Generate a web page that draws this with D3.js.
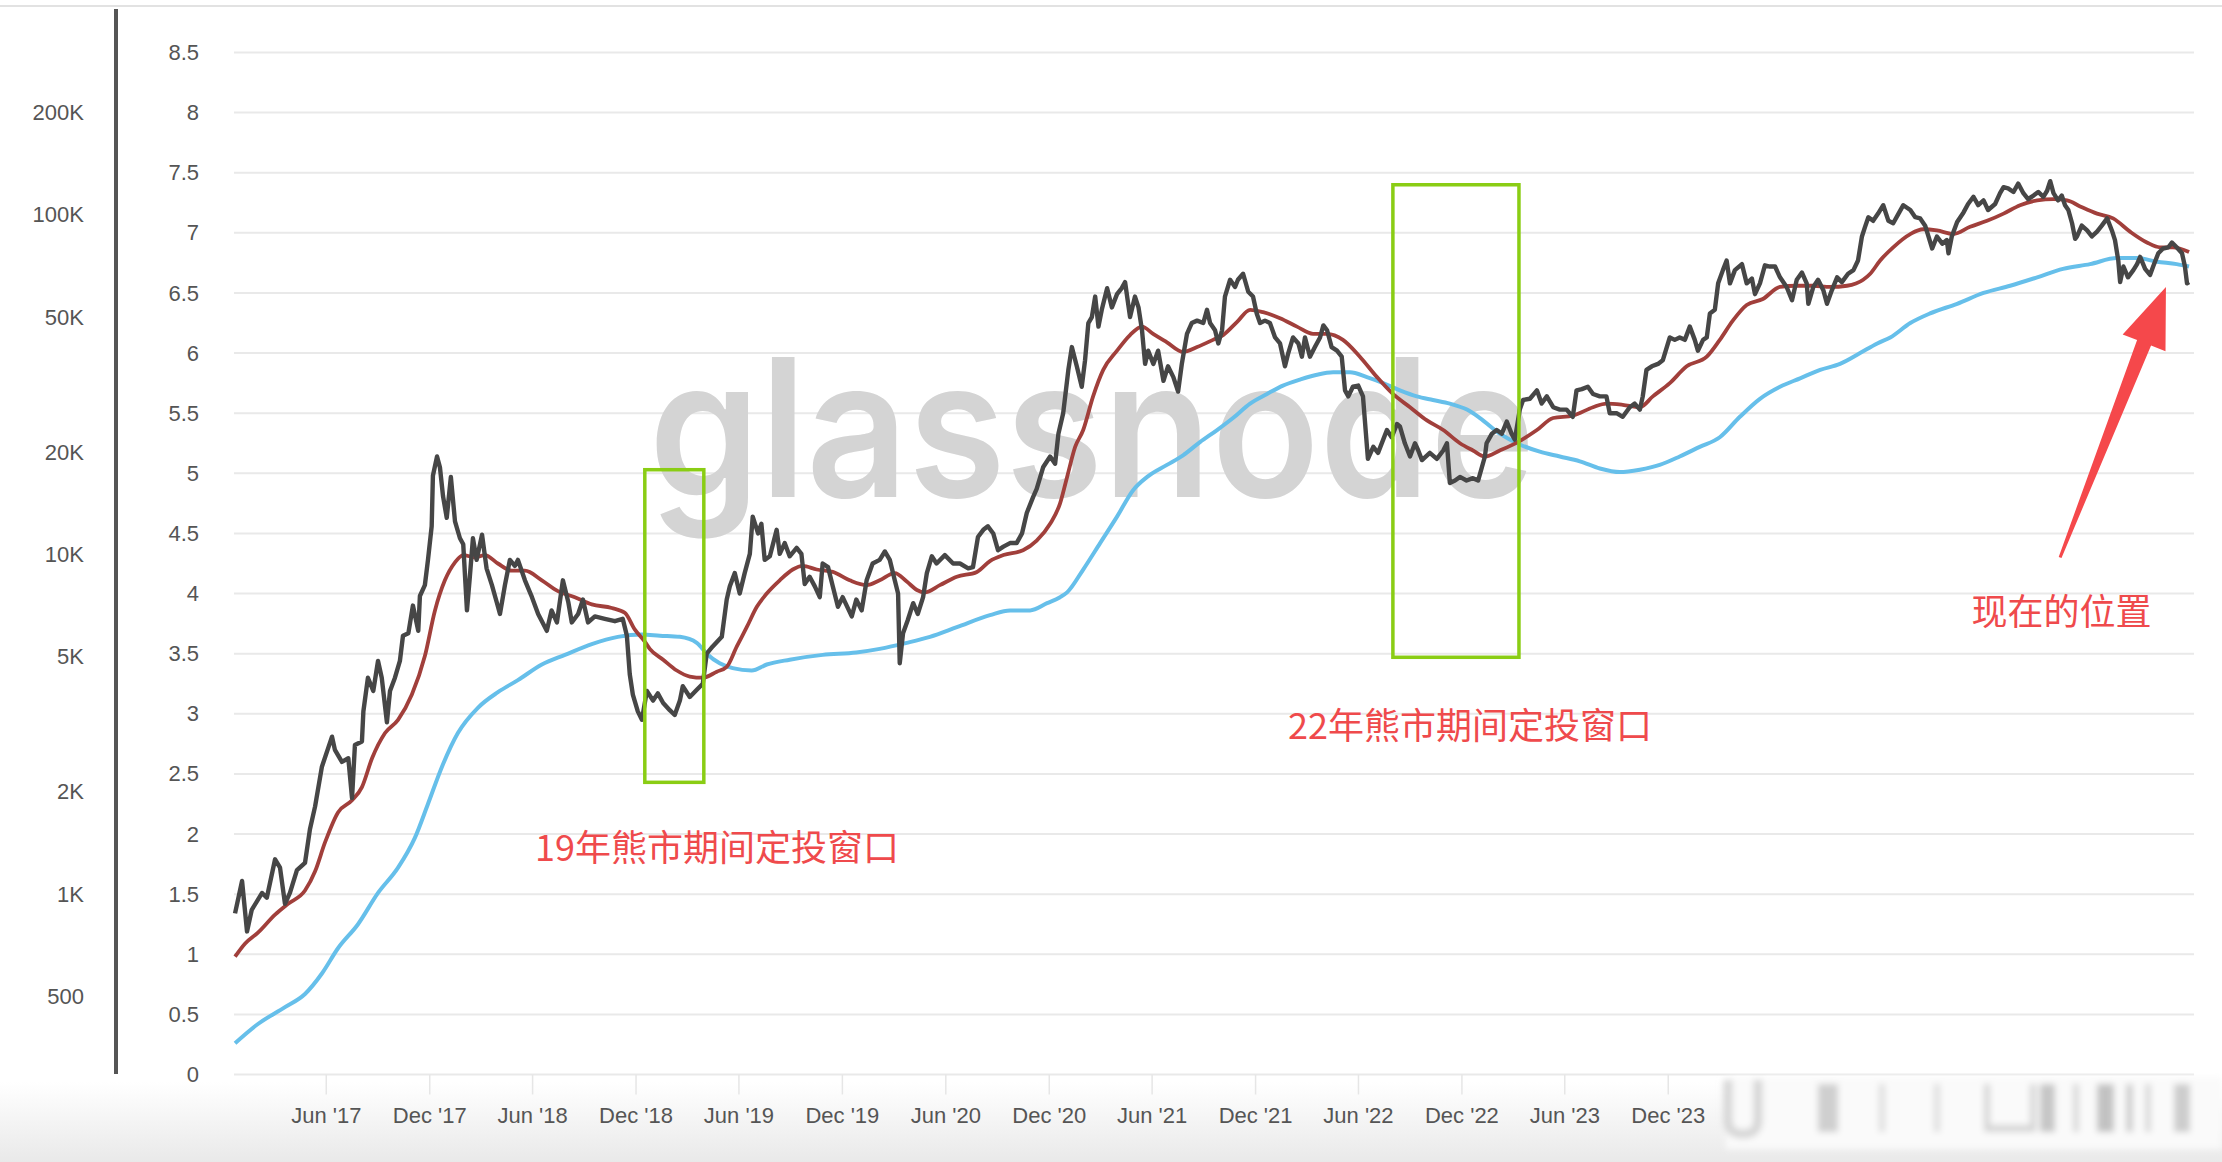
<!DOCTYPE html>
<html>
<head>
<meta charset="utf-8">
<script src="https://cdn.jsdelivr.net/npm/d3@7"></script>
<style>
  html, body { margin: 0; padding: 0; background: #fff; }
  svg { display: block; }
</style>
</head>
<body>
<svg id="chart" width="2222" height="1162"></svg>
<script>
// Values are read on the right-hand 0–8.5 axis; x is a decimal year.
const priceYears = [2016.974,2017.008,2017.032,2017.055,2017.105,2017.128,2017.168,2017.192,2017.216,2017.240,2017.274,2017.313,2017.337,2017.362,2017.395,2017.444,2017.458,2017.492,2017.523,2017.541,2017.555,2017.589,2017.596,2017.618,2017.644,2017.667,2017.685,2017.710,2017.725,2017.749,2017.773,2017.788,2017.814,2017.836,2017.862,2017.870,2017.894,2017.909,2017.927,2017.933,2017.953,2017.967,2017.982,2018.000,2018.020,2018.040,2018.064,2018.080,2018.098,2018.112,2018.127,2018.145,2018.171,2018.193,2018.219,2018.242,2018.258,2018.282,2018.306,2018.330,2018.345,2018.379,2018.413,2018.443,2018.485,2018.508,2018.534,2018.563,2018.589,2018.606,2018.637,2018.660,2018.685,2018.718,2018.766,2018.815,2018.853,2018.873,2018.887,2018.902,2018.926,2018.946,2018.970,2019.000,2019.023,2019.049,2019.081,2019.105,2019.130,2019.144,2019.178,2019.212,2019.241,2019.260,2019.289,2019.333,2019.357,2019.372,2019.396,2019.420,2019.444,2019.469,2019.483,2019.509,2019.525,2019.541,2019.566,2019.599,2019.614,2019.638,2019.662,2019.696,2019.719,2019.735,2019.759,2019.784,2019.808,2019.822,2019.848,2019.871,2019.896,2019.919,2019.963,2019.985,2020.011,2020.035,2020.064,2020.098,2020.123,2020.147,2020.171,2020.187,2020.195,2020.211,2020.234,2020.260,2020.282,2020.308,2020.326,2020.350,2020.373,2020.413,2020.453,2020.486,2020.526,2020.549,2020.573,2020.599,2020.621,2020.647,2020.670,2020.696,2020.728,2020.760,2020.786,2020.809,2020.839,2020.857,2020.888,2020.922,2020.946,2020.962,2020.985,2021.010,2021.027,2021.051,2021.075,2021.091,2021.107,2021.124,2021.140,2021.156,2021.172,2021.198,2021.221,2021.246,2021.269,2021.285,2021.309,2021.333,2021.350,2021.367,2021.382,2021.397,2021.422,2021.445,2021.471,2021.493,2021.519,2021.542,2021.560,2021.585,2021.608,2021.634,2021.664,2021.682,2021.697,2021.721,2021.737,2021.755,2021.769,2021.794,2021.818,2021.832,2021.857,2021.882,2021.905,2021.923,2021.939,2021.963,2021.987,2022.012,2022.036,2022.060,2022.076,2022.099,2022.125,2022.142,2022.157,2022.181,2022.205,2022.230,2022.246,2022.264,2022.286,2022.312,2022.335,2022.351,2022.367,2022.389,2022.415,2022.438,2022.462,2022.488,2022.511,2022.536,2022.554,2022.577,2022.603,2022.617,2022.641,2022.666,2022.690,2022.706,2022.724,2022.762,2022.796,2022.827,2022.845,2022.859,2022.884,2022.908,2022.940,2022.971,2022.996,2023.029,2023.037,2023.063,2023.086,2023.111,2023.135,2023.158,2023.174,2023.198,2023.214,2023.247,2023.281,2023.304,2023.329,2023.360,2023.392,2023.425,2023.455,2023.473,2023.499,2023.528,2023.553,2023.586,2023.618,2023.634,2023.667,2023.697,2023.731,2023.755,2023.780,2023.794,2023.812,2023.838,2023.868,2023.891,2023.925,2023.949,2023.973,2023.998,2024.022,2024.046,2024.061,2024.086,2024.104,2024.119,2024.143,2024.159,2024.182,2024.200,2024.216,2024.240,2024.274,2024.297,2024.322,2024.337,2024.361,2024.385,2024.409,2024.434,2024.458,2024.490,2024.516,2024.539,2024.564,2024.587,2024.595,2024.619,2024.642,2024.668,2024.685,2024.708,2024.734,2024.757,2024.787,2024.813,2024.835,2024.854,2024.869,2024.885,2024.908,2024.932,2024.957,2024.982,2025.005,2025.031,2025.054,2025.088,2025.112,2025.136,2025.160,2025.176,2025.194,2025.217,2025.243,2025.265,2025.273,2025.289,2025.315,2025.346,2025.368,2025.394,2025.417,2025.443,2025.465,2025.499,2025.523,2025.540,2025.562,2025.588,2025.611,2025.636,2025.659,2025.685,2025.708,2025.733,2025.751,2025.766,2025.782,2025.804,2025.822,2025.838,2025.854,2025.872,2025.887,2025.896,2025.919,2025.945,2025.968,2025.993,2026.016,2026.042,2026.065,2026.080,2026.096,2026.105,2026.121,2026.143,2026.169,2026.187,2026.202,2026.226,2026.250,2026.265,2026.290,2026.313,2026.339,2026.356,2026.379,2026.405,2026.419,2026.429,2026.439];
const priceValues = [1.34,1.61,1.19,1.37,1.51,1.47,1.79,1.72,1.42,1.51,1.70,1.76,2.04,2.23,2.56,2.81,2.70,2.60,2.63,2.30,2.74,2.77,3.02,3.30,3.19,3.44,3.30,2.93,3.19,3.30,3.44,3.65,3.67,3.90,3.69,3.98,4.07,4.28,4.56,4.98,5.14,5.05,4.81,4.63,4.97,4.60,4.46,4.41,3.86,4.14,4.46,4.28,4.49,4.21,4.07,3.93,3.83,4.07,4.28,4.23,4.28,4.11,3.97,3.83,3.69,3.86,3.76,4.11,3.93,3.76,3.83,3.95,3.76,3.81,3.79,3.77,3.79,3.65,3.33,3.16,3.02,2.95,3.19,3.11,3.17,3.09,3.03,2.99,3.11,3.23,3.14,3.20,3.25,3.50,3.56,3.64,3.95,4.06,4.17,4.00,4.17,4.33,4.64,4.50,4.58,4.28,4.31,4.53,4.33,4.42,4.31,4.38,4.33,4.08,4.14,4.06,3.97,4.25,4.22,4.06,3.89,3.97,3.81,3.95,3.86,4.11,4.25,4.28,4.35,4.28,4.11,4.00,3.42,3.67,3.78,3.92,3.83,3.97,4.17,4.31,4.25,4.32,4.25,4.25,4.21,4.22,4.47,4.53,4.56,4.50,4.36,4.39,4.42,4.42,4.50,4.67,4.80,4.87,5.05,5.14,5.08,5.33,5.50,5.86,6.05,5.89,5.72,5.94,6.25,6.30,6.47,6.22,6.36,6.54,6.38,6.49,6.54,6.59,6.30,6.47,6.38,6.19,5.91,6.02,5.91,6.02,5.77,5.89,5.80,5.68,5.91,6.16,6.25,6.27,6.25,6.36,6.25,6.19,6.08,6.19,6.47,6.61,6.55,6.61,6.66,6.51,6.47,6.33,6.25,6.27,6.25,6.13,6.08,5.89,6.00,6.13,6.08,5.97,6.13,5.97,6.05,6.13,6.23,6.19,6.05,6.02,5.97,5.69,5.64,5.72,5.73,5.64,5.12,5.22,5.17,5.28,5.36,5.30,5.41,5.39,5.25,5.14,5.25,5.19,5.11,5.17,5.12,5.19,5.25,4.92,4.94,4.97,4.94,4.96,4.94,5.14,5.25,5.33,5.36,5.33,5.43,5.33,5.28,5.53,5.61,5.62,5.69,5.58,5.64,5.55,5.53,5.53,5.47,5.69,5.70,5.72,5.66,5.64,5.64,5.50,5.50,5.47,5.55,5.58,5.53,5.64,5.86,5.89,5.91,5.94,6.13,6.11,6.13,6.11,6.22,6.11,6.02,6.11,6.13,6.33,6.36,6.58,6.69,6.77,6.58,6.69,6.74,6.58,6.62,6.49,6.58,6.73,6.72,6.72,6.63,6.55,6.44,6.61,6.67,6.58,6.41,6.55,6.61,6.52,6.41,6.52,6.63,6.59,6.66,6.69,6.77,6.97,7.05,7.13,7.10,7.16,7.23,7.10,7.08,7.16,7.23,7.19,7.13,7.12,7.06,6.97,6.87,6.97,6.91,6.94,6.83,6.97,7.09,7.17,7.24,7.30,7.23,7.27,7.19,7.24,7.33,7.38,7.37,7.34,7.41,7.33,7.28,7.31,7.34,7.30,7.35,7.43,7.33,7.27,7.31,7.23,7.19,7.08,6.95,6.97,7.06,7.02,6.97,7.01,7.06,7.12,7.02,6.94,6.77,6.59,6.72,6.63,6.69,6.74,6.80,6.70,6.65,6.72,6.83,6.87,6.88,6.92,6.88,6.83,6.72,6.58,6.59];

const redYears = [2016.974,2017.023,2017.085,2017.168,2017.231,2017.313,2017.362,2017.410,2017.473,2017.541,2017.589,2017.638,2017.701,2017.764,2017.831,2017.894,2017.943,2017.991,2018.040,2018.080,2018.137,2018.185,2018.248,2018.316,2018.379,2018.461,2018.539,2018.621,2018.703,2018.800,2018.863,2018.912,2018.960,2018.984,2019.049,2019.115,2019.178,2019.241,2019.309,2019.357,2019.406,2019.454,2019.503,2019.551,2019.614,2019.677,2019.725,2019.793,2019.871,2019.953,2020.035,2020.098,2020.171,2020.229,2020.278,2020.316,2020.389,2020.471,2020.568,2020.631,2020.696,2020.791,2020.857,2020.922,2020.970,2021.004,2021.043,2021.082,2021.130,2021.179,2021.246,2021.309,2021.367,2021.421,2021.488,2021.566,2021.634,2021.711,2021.760,2021.828,2021.891,2021.954,2022.036,2022.118,2022.196,2022.264,2022.341,2022.423,2022.506,2022.583,2022.666,2022.748,2022.827,2022.908,2022.971,2023.029,2023.101,2023.189,2023.281,2023.360,2023.455,2023.553,2023.618,2023.697,2023.780,2023.843,2023.925,2024.007,2024.104,2024.167,2024.230,2024.297,2024.375,2024.458,2024.540,2024.619,2024.700,2024.782,2024.860,2024.894,2024.942,2025.005,2025.088,2025.150,2025.217,2025.296,2025.378,2025.460,2025.540,2025.620,2025.703,2025.782,2025.848,2025.911,2025.993,2026.071,2026.153,2026.235,2026.298,2026.361,2026.439];
const redValues = [0.98,1.09,1.18,1.33,1.42,1.53,1.69,1.93,2.18,2.28,2.39,2.63,2.84,2.95,3.16,3.48,3.86,4.11,4.26,4.32,4.30,4.32,4.25,4.19,4.19,4.11,4.02,3.97,3.91,3.88,3.84,3.70,3.60,3.54,3.45,3.36,3.31,3.30,3.35,3.39,3.56,3.72,3.89,4.00,4.11,4.20,4.23,4.20,4.18,4.11,4.07,4.11,4.17,4.10,4.03,4.01,4.07,4.14,4.18,4.27,4.32,4.36,4.44,4.58,4.75,4.97,5.22,5.36,5.64,5.86,6.02,6.15,6.22,6.16,6.09,6.01,6.05,6.11,6.15,6.26,6.36,6.34,6.29,6.22,6.16,6.16,6.11,5.97,5.80,5.66,5.55,5.44,5.36,5.25,5.19,5.14,5.19,5.26,5.36,5.46,5.48,5.55,5.58,5.57,5.55,5.64,5.75,5.89,5.97,6.11,6.27,6.40,6.45,6.55,6.56,6.56,6.55,6.56,6.61,6.66,6.77,6.88,6.99,7.03,7.02,6.99,7.05,7.10,7.16,7.23,7.27,7.28,7.27,7.22,7.16,7.12,7.01,6.92,6.88,6.88,6.84];

const blueYears = [2016.974,2017.085,2017.216,2017.313,2017.395,2017.473,2017.570,2017.667,2017.764,2017.846,2017.909,2017.977,2018.054,2018.151,2018.248,2018.345,2018.461,2018.573,2018.703,2018.829,2018.946,2019.033,2019.130,2019.212,2019.260,2019.323,2019.386,2019.478,2019.551,2019.662,2019.822,2019.985,2020.098,2020.229,2020.341,2020.471,2020.631,2020.728,2020.825,2020.907,2020.970,2021.004,2021.082,2021.164,2021.246,2021.324,2021.392,2021.488,2021.566,2021.648,2021.731,2021.808,2021.891,2021.973,2022.050,2022.133,2022.215,2022.293,2022.375,2022.457,2022.536,2022.617,2022.699,2022.777,2022.859,2022.942,2023.005,2023.101,2023.198,2023.295,2023.392,2023.489,2023.586,2023.683,2023.780,2023.876,2023.973,2024.070,2024.167,2024.264,2024.361,2024.458,2024.555,2024.652,2024.748,2024.845,2024.928,2024.991,2025.088,2025.184,2025.315,2025.443,2025.572,2025.703,2025.828,2025.959,2026.090,2026.187,2026.284,2026.379,2026.439];
const blueValues = [0.26,0.42,0.56,0.67,0.84,1.05,1.25,1.51,1.72,1.97,2.25,2.56,2.84,3.05,3.18,3.28,3.41,3.49,3.58,3.64,3.66,3.65,3.64,3.59,3.50,3.42,3.38,3.36,3.41,3.45,3.49,3.51,3.54,3.59,3.64,3.72,3.82,3.86,3.86,3.92,3.97,4.01,4.20,4.42,4.64,4.86,4.97,5.07,5.15,5.26,5.36,5.46,5.58,5.66,5.73,5.78,5.82,5.84,5.84,5.80,5.75,5.69,5.64,5.61,5.58,5.53,5.46,5.33,5.24,5.18,5.14,5.10,5.04,5.01,5.03,5.07,5.14,5.22,5.30,5.47,5.62,5.72,5.79,5.86,5.91,6.00,6.08,6.13,6.25,6.33,6.41,6.50,6.56,6.63,6.70,6.74,6.79,6.79,6.76,6.74,6.72];

const rightTicks = [0, 0.5, 1, 1.5, 2, 2.5, 3, 3.5, 4, 4.5, 5, 5.5, 6, 6.5, 7, 7.5, 8, 8.5];
const leftTicks = [500, 1000, 2000, 5000, 10000, 20000, 50000, 100000, 200000];
const leftTickLabels = ['500', '1K', '2K', '5K', '10K', '20K', '50K', '100K', '200K'];
const xTickDates = ['2017-06-01', '2017-12-01', '2018-06-01', '2018-12-01', '2019-06-01', '2019-12-01', '2020-06-01',
  '2020-12-01', '2021-06-01', '2021-12-01', '2022-06-01', '2022-12-01', '2023-06-01', '2023-12-01'];

// DCA windows drawn as green boxes, in data units
const windowStarts = [2018.960, 2022.583];
const windowEnds = [2019.246, 2023.194];
const windowTops = [5.03, 7.40];
const windowBottoms = [2.43, 3.47];

const noteTexts = ['19年熊市期间定投窗口', '22年熊市期间定投窗口', '现在的位置'];
const noteYears = [2018.428, 2022.075, 2025.384];
const noteValues = [1.91, 2.92, 3.87];
const arrowTail = [2025.814, 4.30];
const arrowTip = [2026.327, 6.55];

// ---------------------------------------------------------------
const W = 2222, H = 1162;
const tickFont = '"Liberation Sans", Arial, Helvetica, sans-serif';
const cjkFont = '"Noto Sans CJK SC", "Noto Sans", sans-serif';

const toDate = yr => {
  const y0 = Math.floor(yr);
  const a = Date.UTC(y0, 0, 1), b = Date.UTC(y0 + 1, 0, 1);
  return new Date(a + (yr - y0) * (b - a));
};

const x = d3.scaleUtc().domain([toDate(2016.969), toDate(2026.463)]).range([234, 2194]);
const y = d3.scaleLinear().domain([0, 8.5]).range([1074.5, 52.5]);
const yLog = d3.scaleLog().domain([1000, 200000]).range([y(1.5), y(8)]);

const svg = d3.select('#chart');
const defs = svg.append('defs');

const fade = defs.append('linearGradient').attr('id', 'bottomFade')
  .attr('x1', 0).attr('y1', 0).attr('x2', 0).attr('y2', 1);
fade.append('stop').attr('offset', '0%').attr('stop-color', '#ffffff');
fade.append('stop').attr('offset', '100%').attr('stop-color', '#e9e9e9');

defs.append('filter').attr('id', 'blur').attr('x', '-50%').attr('y', '-50%').attr('width', '200%').attr('height', '200%')
  .append('feGaussianBlur').attr('stdDeviation', 3);

svg.append('rect').attr('width', W).attr('height', H).attr('fill', '#fff');
svg.append('rect').attr('x', 0).attr('y', 1082).attr('width', W).attr('height', H - 1082)
  .attr('fill', 'url(#bottomFade)');

// thin top rule
svg.append('line').attr('x1', 0).attr('x2', W).attr('y1', 6).attr('y2', 6)
  .attr('stroke', '#e2e2e2').attr('stroke-width', 2);

// horizontal grid
svg.append('g').selectAll('line')
  .data(rightTicks)
  .join('line')
  .attr('x1', 234).attr('x2', 2194)
  .attr('y1', d => y(d)).attr('y2', d => y(d))
  .attr('stroke', '#e9e9e9').attr('stroke-width', 2);

// x axis
const xAxis = svg.append('g')
  .attr('transform', `translate(0,${y(0)})`)
  .call(d3.axisBottom(x)
    .tickValues(xTickDates.map(d => new Date(d + 'T00:00:00Z')))
    .tickFormat(d3.utcFormat("%b '%y"))
    .tickSize(20)
    .tickPadding(13));
xAxis.select('.domain').remove();
xAxis.selectAll('.tick line').attr('stroke', '#e6e6e6').attr('stroke-width', 1.5);
xAxis.selectAll('text').attr('fill', '#555').style('font-size', '22px').style('font-family', tickFont);

// right-hand linear axis
const yAxis = svg.append('g')
  .attr('transform', 'translate(199,0)')
  .call(d3.axisLeft(y).tickValues(rightTicks).tickFormat(d => String(d)).tickSize(0).tickPadding(0));
yAxis.select('.domain').remove();
yAxis.selectAll('text').attr('fill', '#555').style('font-size', '22px').style('font-family', tickFont);

// left price axis (log)
const priceAxis = svg.append('g')
  .attr('transform', 'translate(84,0)')
  .call(d3.axisLeft(yLog).tickValues(leftTicks).tickFormat((d, i) => leftTickLabels[i]).tickSize(0).tickPadding(0));
priceAxis.select('.domain').remove();
priceAxis.selectAll('text').attr('fill', '#555').style('font-size', '22px').style('font-family', tickFont);

svg.append('line').attr('x1', 116).attr('x2', 116).attr('y1', 9).attr('y2', 1074)
  .attr('stroke', '#555').attr('stroke-width', 4);

// watermark
svg.append('text')
  .attr('x', 649).attr('y', 497)
  .attr('textLength', 886).attr('lengthAdjust', 'spacingAndGlyphs')
  .style('font-family', 'Inter, Roboto, "Noto Sans", sans-serif')
  .style('font-size', '192px').style('font-weight', 600)
  .attr('fill', '#d4d4d4')
  .text('glassnode');

// series
const toPoints = (xs, vs) => xs.map((yr, i) => ({ date: toDate(yr), v: vs[i] }));
const smooth = d3.line().x(d => x(d.date)).y(d => y(d.v)).curve(d3.curveMonotoneX);
const raw = d3.line().x(d => x(d.date)).y(d => y(d.v));

svg.append('path').datum(toPoints(blueYears, blueValues))
  .attr('d', smooth).attr('fill', 'none')
  .attr('stroke', '#66bfea').attr('stroke-width', 4).attr('stroke-linejoin', 'round');
svg.append('path').datum(toPoints(redYears, redValues))
  .attr('d', smooth).attr('fill', 'none')
  .attr('stroke', '#a13f3b').attr('stroke-width', 3.8).attr('stroke-linejoin', 'round');
svg.append('path').datum(toPoints(priceYears, priceValues))
  .attr('d', raw).attr('fill', 'none')
  .attr('stroke', '#464646').attr('stroke-width', 4.4).attr('stroke-linejoin', 'round');

// green boxes
svg.append('g').selectAll('rect')
  .data(windowStarts)
  .join('rect')
  .attr('x', (d, i) => x(toDate(d)))
  .attr('y', (d, i) => y(windowTops[i]))
  .attr('width', (d, i) => x(toDate(windowEnds[i])) - x(toDate(d)))
  .attr('height', (d, i) => y(windowBottoms[i]) - y(windowTops[i]))
  .attr('fill', 'none').attr('stroke', '#8acd14').attr('stroke-width', 3.5);

// red notes
svg.append('g').selectAll('text')
  .data(noteTexts)
  .join('text')
  .attr('x', (d, i) => x(toDate(noteYears[i])))
  .attr('y', (d, i) => y(noteValues[i]))
  .attr('dominant-baseline', 'central')
  .style('font-family', cjkFont).style('font-size', '36px')
  .attr('fill', '#ef4a4c')
  .text(d => d);

// arrow
const tx = x(toDate(arrowTip[0])), ty = y(arrowTip[1]);
const bx = x(toDate(arrowTail[0])), by = y(arrowTail[1]);
const len = Math.hypot(tx - bx, ty - by);
const ux = (tx - bx) / len, uy = (ty - by) / len;
const nx = -uy, ny = ux;
const mx = tx - ux * 60, my = ty - uy * 60;
const arrowPts = [
  [bx - nx * 1.5, by - ny * 1.5],
  [mx - nx * 7.5, my - ny * 7.5],
  [mx - nx * 23, my - ny * 23],
  [tx, ty],
  [mx + nx * 23, my + ny * 23],
  [mx + nx * 7.5, my + ny * 7.5],
  [bx + nx * 1.5, by + ny * 1.5]
];
svg.append('path').attr('d', d3.line()(arrowPts) + 'Z').attr('fill', '#f5484b');

// blurred strip over the hidden part of the x axis
const strip = svg.append('g').attr('filter', 'url(#blur)');
strip.append('rect').attr('x', 1726).attr('y', 1077).attr('width', 496).attr('height', 72).attr('fill', '#fafafa');
strip.append('path').attr('d', 'M1728,1080 L1728,1120 Q1728,1134 1743,1134 Q1758,1134 1758,1120 L1758,1080')
  .attr('fill', 'none').attr('stroke', '#d6d6d6').attr('stroke-width', 9);
const blurBars = [[1818, 20, '#cfcfcf'], [1879, 6, '#dedede'], [1934, 6, '#dedede'], [1984, 6, '#d4d4d4'],
  [2030, 6, '#d4d4d4'], [2040, 15, '#c6c6c6'], [2073, 6, '#d8d8d8'], [2097, 17, '#c2c2c2'],
  [2126, 7, '#cecece'], [2145, 6, '#d8d8d8'], [2174, 16, '#cdcdcd']];
strip.selectAll('rect.bar')
  .data(blurBars)
  .join('rect')
  .attr('class', 'bar')
  .attr('x', d => d[0]).attr('y', 1084).attr('width', d => d[1]).attr('height', 48)
  .attr('fill', d => d[2]);
strip.append('rect').attr('x', 1984).attr('y', 1125).attr('width', 52).attr('height', 7).attr('fill', '#d4d4d4');
</script>
</body>
</html>
